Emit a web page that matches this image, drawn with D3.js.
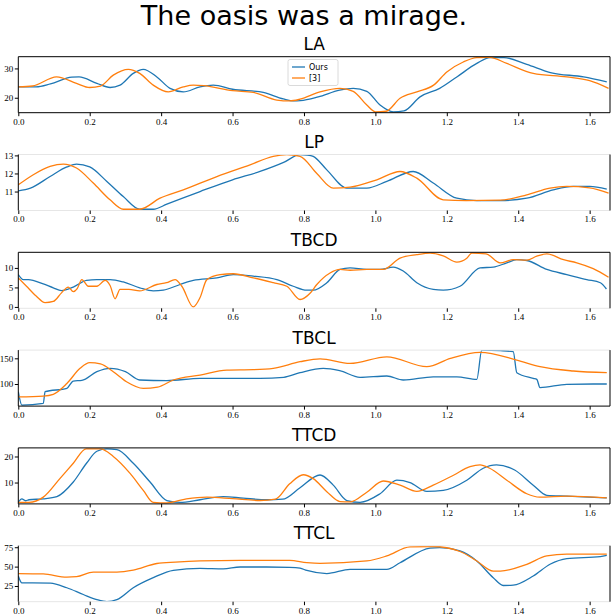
<!DOCTYPE html>
<html>
<head>
<meta charset="utf-8">
<script src="https://cdn.jsdelivr.net/npm/d3@7"></script>
<style>
  body { margin: 0; background: #fff; }
</style>
</head>
<body>
<div id="chart"></div>
<script>
// panels, top to bottom
var panelNames = ["LA", "LP", "TBCD", "TBCL", "TTCD", "TTCL"];
var seriesNames = ["Ours", "[3]"];
var xTicks = [0.0, 0.2, 0.4, 0.6, 0.8, 1.0, 1.2, 1.4, 1.6];
var yTicks = [[20, 30], [11, 12, 13], [0, 5, 10], [100, 150], [10, 20], [25, 50, 75]];
var yDomains = [[14.9, 34], [9.95, 13.05], [-0.35, 14], [57, 166], [1.8, 23.3], [4.7, 77]];

// [t, value]
var laOurs = [[0,23.7],[0.05,23.7],[0.09,24.7],[0.15,27.0],[0.17,27.1],[0.22,24.9],[0.257,23.5],[0.285,24.3],[0.322,28.3],[0.35,29.7],[0.388,27.1],[0.425,23.2],[0.462,22.0],[0.509,23.7],[0.546,24.3],[0.60,22.9],[0.686,21.8],[0.742,19.6],[0.77,18.9],[0.79,19.0],[0.84,20.3],[0.90,22.6],[0.938,23.2],[0.976,22.2],[1.013,17.5],[1.05,15.2],[1.08,15.5],[1.125,20.3],[1.18,23.2],[1.228,27.1],[1.284,31.7],[1.321,33.7],[1.36,33.7],[1.424,31.4],[1.49,28.6],[1.583,27.1],[1.648,25.4]];
var laRef = [[0,23.7],[0.04,24.0],[0.107,27.1],[0.163,24.9],[0.2,23.5],[0.23,24.0],[0.266,27.7],[0.308,29.7],[0.34,28.3],[0.378,24.3],[0.42,22.0],[0.462,23.7],[0.49,24.3],[0.52,24.1],[0.60,22.4],[0.658,21.8],[0.724,19.2],[0.76,18.9],[0.789,19.5],[0.845,22.0],[0.901,23.2],[0.938,22.2],[0.976,17.5],[1.0,15.2],[1.03,15.4],[1.069,19.8],[1.116,22.0],[1.163,24.3],[1.2,28.8],[1.246,32.2],[1.284,33.7],[1.32,33.8],[1.368,31.7],[1.442,28.3],[1.536,27.1],[1.6,25.8],[1.653,23.2]];

var lpOurs = [[0,11.04],[0.034,11.19],[0.089,11.83],[0.136,12.36],[0.163,12.52],[0.2,12.36],[0.248,11.56],[0.294,10.72],[0.34,10.02],[0.378,10.02],[0.416,10.3],[0.509,11.0],[0.6,11.65],[0.677,12.11],[0.743,12.61],[0.789,13.04],[0.81,13.02],[0.826,12.95],[0.864,12.2],[0.92,11.19],[0.976,11.19],[1.032,11.56],[1.106,12.11],[1.162,11.47],[1.228,10.63],[1.284,10.5],[1.35,10.5],[1.424,10.63],[1.498,11.09],[1.554,11.28],[1.6,11.28],[1.648,11.13]];
var lpRef = [[0,11.37],[0.042,11.93],[0.089,12.39],[0.126,12.52],[0.163,12.3],[0.21,11.47],[0.257,10.54],[0.294,10.02],[0.34,10.02],[0.397,10.63],[0.462,11.09],[0.556,11.83],[0.649,12.48],[0.714,12.95],[0.752,13.04],[0.789,12.95],[0.836,12.0],[0.882,11.19],[0.929,11.24],[1.004,11.65],[1.069,12.11],[1.116,11.74],[1.19,10.54],[1.254,10.5],[1.35,10.52],[1.424,10.82],[1.489,11.19],[1.536,11.28],[1.6,11.2],[1.653,10.91]];

var tbcdOurs = [[0,8.3],[0.014,7.0],[0.028,7.0],[0.07,5.9],[0.098,4.9],[0.121,4.2],[0.154,5.1],[0.191,6.8],[0.22,7.0],[0.257,7.0],[0.294,6.4],[0.34,4.9],[0.378,4.1],[0.406,4.3],[0.453,5.75],[0.49,6.8],[0.556,7.45],[0.602,8.3],[0.658,7.9],[0.724,7.0],[0.77,5.3],[0.808,4.3],[0.826,4.3],[0.864,6.2],[0.901,9.6],[0.929,10.0],[0.976,9.6],[1.013,9.6],[1.05,10.2],[1.078,9.2],[1.116,6.2],[1.162,4.5],[1.19,4.3],[1.237,5.3],[1.293,10.0],[1.33,10.2],[1.368,11.3],[1.396,12.1],[1.424,11.9],[1.48,9.6],[1.536,8.3],[1.592,7.0],[1.63,6.2],[1.647,4.6]];
var tbcdRef = [[0,7.45],[0.023,5.3],[0.05,2.8],[0.075,1.1],[0.098,1.4],[0.121,3.6],[0.14,5.1],[0.154,3.9],[0.165,4.7],[0.178,7.0],[0.196,5.3],[0.22,5.3],[0.243,6.8],[0.257,5.5],[0.271,2.1],[0.285,4.5],[0.31,4.5],[0.34,4.1],[0.388,5.75],[0.415,6.2],[0.439,7.0],[0.458,5.3],[0.49,0.0],[0.509,2.4],[0.528,7.0],[0.565,8.3],[0.602,8.5],[0.658,7.45],[0.714,6.2],[0.752,5.3],[0.789,1.9],[0.817,3.5],[0.836,5.75],[0.873,8.7],[0.901,9.6],[0.929,9.4],[0.976,9.6],[1.022,9.6],[1.069,12.5],[1.116,13.4],[1.153,13.8],[1.19,13.1],[1.228,11.5],[1.256,12.5],[1.27,13.8],[1.31,13.6],[1.349,11.3],[1.386,12.1],[1.424,12.0],[1.452,13.0],[1.48,13.6],[1.527,12.1],[1.564,11.3],[1.61,9.8],[1.653,7.6]];

var tbclOurs = [[0,85],[0.01,59],[0.07,62.4],[0.075,85],[0.136,91.6],[0.154,105.8],[0.178,107],[0.22,124],[0.257,130.5],[0.3,124],[0.34,107.8],[0.416,106.5],[0.509,111],[0.6,111],[0.677,111],[0.743,113],[0.789,122],[0.854,130.5],[0.9,126],[0.957,113],[1.032,115.6],[1.078,107.8],[1.162,114],[1.228,114],[1.284,109],[1.298,166],[1.35,165],[1.386,163],[1.396,122],[1.442,111],[1.452,109],[1.461,93],[1.536,99.4],[1.61,100],[1.648,100]];
var tbclRef = [[0,75],[0.07,76.6],[0.098,80],[0.136,101],[0.173,130.5],[0.2,141.5],[0.23,139],[0.266,124],[0.303,104.5],[0.35,91.6],[0.39,94],[0.434,107.8],[0.509,117.5],[0.584,127.2],[0.658,128],[0.714,130.5],[0.789,143.4],[0.845,149],[0.929,140],[1.032,153],[1.144,133.7],[1.21,150],[1.293,161.7],[1.396,146.7],[1.461,133.7],[1.554,125.3],[1.648,122]];

var ttcdOurs = [[0,2.4],[0.01,3.75],[0.02,3.0],[0.03,3.4],[0.07,3.75],[0.108,4.6],[0.154,10.2],[0.191,17.4],[0.22,22],[0.248,22.9],[0.276,22.6],[0.322,17.4],[0.369,10.2],[0.416,3.1],[0.453,2.4],[0.509,3.4],[0.574,4.6],[0.63,4.0],[0.695,3.4],[0.74,3.6],[0.789,8],[0.845,12.9],[0.882,9],[0.92,3.1],[0.957,2.4],[1.013,5.7],[1.06,10.9],[1.097,10],[1.144,6.6],[1.19,7],[1.256,10.9],[1.302,15.5],[1.339,16.8],[1.39,14.8],[1.442,9],[1.48,5.1],[1.536,4.8],[1.648,4.1]];
var ttcdRef = [[0,2.4],[0.03,2.4],[0.07,4.4],[0.117,11.6],[0.154,17.4],[0.19,22.9],[0.23,22.9],[0.266,20],[0.313,13.5],[0.35,7],[0.378,2.4],[0.416,2.2],[0.471,3.75],[0.528,4.4],[0.6,3.8],[0.677,3.1],[0.72,3.6],[0.76,9.5],[0.798,13.0],[0.826,11.5],[0.864,6.5],[0.901,2.7],[0.93,2.6],[0.976,6.3],[1.022,10.6],[1.069,9],[1.116,6.6],[1.162,9],[1.22,12.9],[1.265,16.1],[1.293,16.8],[1.32,15.5],[1.368,10.9],[1.424,5.7],[1.46,4.4],[1.536,4.8],[1.648,4.1]];

var ttclOurs = [[0,37.8],[0.01,29],[0.04,29],[0.09,28.6],[0.136,22.7],[0.182,14],[0.22,7.4],[0.248,4.9],[0.276,7.4],[0.322,22.7],[0.378,35.7],[0.434,45.2],[0.509,47.6],[0.574,47],[0.621,49.5],[0.695,49.5],[0.76,49],[0.789,48],[0.808,45],[0.864,41],[0.929,46.5],[1.032,46.5],[1.069,55],[1.153,73.8],[1.18,74.5],[1.237,70.3],[1.284,57.3],[1.33,35.7],[1.358,25.6],[1.386,26],[1.442,37.8],[1.489,53],[1.536,60.4],[1.63,63],[1.648,64.5]];
var ttclRef = [[0,40.9],[0.07,40.5],[0.136,36.5],[0.163,37],[0.21,43],[0.276,43],[0.322,45.5],[0.388,54],[0.44,55.8],[0.509,57.3],[0.621,58],[0.76,58],[0.808,55.2],[0.845,54.3],[0.976,57.3],[1.032,63.8],[1.097,75.5],[1.162,76],[1.237,69.5],[1.284,57.3],[1.33,44.3],[1.35,44.3],[1.424,53],[1.48,63.8],[1.536,66],[1.648,66]];

var oursData = [laOurs, lpOurs, tbcdOurs, tbclOurs, ttcdOurs, ttclOurs];
var refData = [laRef, lpRef, tbcdRef, tbclRef, ttcdRef, ttclRef];

var W = 612, H = 614;
var left = 18.3, right = 610,
    firstTop = 56.7, step = 97.8, ph = 56;
var colors = ["#1f77b4", "#ff7f0e"];
// spine colours: top, bottom (left/right are black)
var spineTB = [["#000","#000"],["#e6e6e6","#e6e6e6"],["#000","#e6e6e6"],["#e6e6e6","#000"],["#000","#000"],["#e6e6e6","#e6e6e6"]];

var svg = d3.select("#chart").append("svg")
    .attr("width", W)
    .attr("height", H)
    .style("font-family", "DejaVu Sans, sans-serif");

svg.append("text")
    .attr("x", 304).attr("y", 25)
    .attr("text-anchor", "middle")
    .style("font-size", "27px")
    .text("The oasis was a mirage.");

var x = d3.scaleLinear().domain([0, 1.657]).range([left, right]);

panelNames.forEach(function(name, i) {
  var top = firstTop + i * step, bottom = top + ph;
  var y = d3.scaleLinear().domain(yDomains[i]).range([bottom, top]);
  var g = svg.append("g");

  g.append("clipPath").attr("id", "clip" + i)
    .append("rect").attr("x", left).attr("y", top).attr("width", right - left).attr("height", ph);

  var line = d3.line()
      .x(function(d) { return x(d[0]); })
      .y(function(d) { return y(d[1]); })
      .curve(d3.curveMonotoneX);

  [oursData[i], refData[i]].forEach(function(s, k) {
    g.append("path")
      .datum(s)
      .attr("clip-path", "url(#clip" + i + ")")
      .attr("fill", "none")
      .attr("stroke", colors[k])
      .attr("stroke-width", 1.3)
      .attr("d", line);
  });

  // spines
  g.append("line").attr("x1", left).attr("x2", right).attr("y1", top).attr("y2", top)
    .attr("stroke", spineTB[i][0]).attr("stroke-width", 1);
  g.append("line").attr("x1", left).attr("x2", right).attr("y1", bottom).attr("y2", bottom)
    .attr("stroke", spineTB[i][1]).attr("stroke-width", 1);
  g.append("line").attr("x1", left).attr("x2", left).attr("y1", top).attr("y2", bottom)
    .attr("stroke", "#000").attr("stroke-width", 1);
  g.append("line").attr("x1", right).attr("x2", right).attr("y1", top).attr("y2", bottom)
    .attr("stroke", "#000").attr("stroke-width", 1);

  var xAxis = g.append("g")
    .attr("transform", "translate(0," + bottom + ")")
    .call(d3.axisBottom(x).tickValues(xTicks).tickFormat(d3.format(".1f")).tickSize(3.5).tickPadding(2));
  var yAxis = g.append("g")
    .attr("transform", "translate(" + left + ",0)")
    .call(d3.axisLeft(y).tickValues(yTicks[i]).tickFormat(d3.format("d")).tickSize(3.5).tickPadding(1.5));
  [xAxis, yAxis].forEach(function(a) {
    a.select(".domain").remove();
    a.selectAll("text")
      .style("font-family", "Liberation Serif, serif")
      .style("font-size", "9px")
      .attr("fill", "#000");
  });

  g.append("text")
    .attr("x", (left + right) / 2).attr("y", top - 6.5)
    .attr("text-anchor", "middle")
    .style("font-size", "17px")
    .text(name);

  if (i === 0) {
    var lg = g.append("g").attr("transform", "translate(288,59.5)");
    lg.append("rect")
      .attr("width", 50).attr("height", 26).attr("rx", 2)
      .attr("fill", "#fff").attr("fill-opacity", 0.8)
      .attr("stroke", "#d0d0d0").attr("stroke-width", 0.8);
    seriesNames.forEach(function(s, k) {
      var yy = 7.5 + k * 11;
      lg.append("line").attr("x1", 4).attr("x2", 17).attr("y1", yy).attr("y2", yy)
        .attr("stroke", colors[k]).attr("stroke-width", 1.3);
      lg.append("text").attr("x", 21).attr("y", yy + 3)
        .style("font-size", "8px").text(s);
    });
  }
});
</script>
</body>
</html>
